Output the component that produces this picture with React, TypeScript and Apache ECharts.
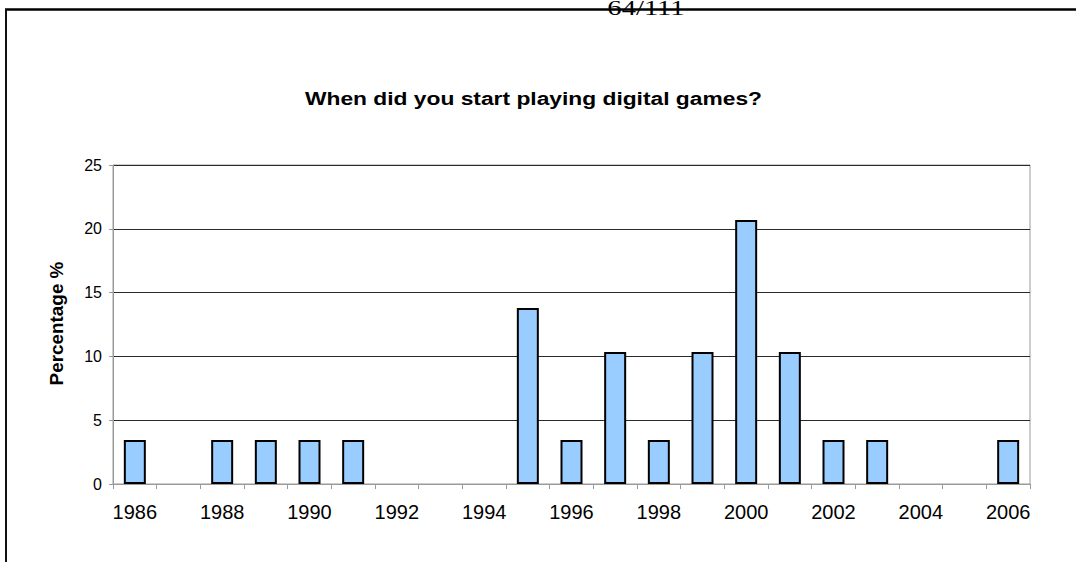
import React, { useEffect, useRef } from "react";
import * as echarts from "echarts";

const years = [
  "1986", "1987", "1988", "1989", "1990", "1991", "1992", "1993", "1994", "1995",
  "1996", "1997", "1998", "1999", "2000", "2001", "2002", "2003", "2004", "2005", "2006",
];
const percentages = [
  3.45, 0, 3.45, 3.45, 3.45, 3.45, 0, 0, 0, 13.79,
  3.45, 10.34, 3.45, 10.34, 20.69, 10.34, 3.45, 3.45, 0, 0, 3.45,
];
const chartTitle = "When did you start playing digital games?";
const yAxisName = "Percentage %";
const pageNumber = "64/111";

export default function App() {
  const ref = useRef<HTMLDivElement>(null);
  useEffect(() => {
    if (!ref.current) return;
    const chart = echarts.init(ref.current, null, { renderer: "svg" });
    chart.setOption({
      animation: false,
      backgroundColor: "#ffffff",
      grid: {
        left: 113,
        right: 46,
        top: 165,
        bottom: 78,
        show: true,
        borderColor: "#9a9a9a",
        borderWidth: 1,
        backgroundColor: "transparent",
      },
      xAxis: {
        type: "category",
        data: years,
        boundaryGap: true,
        axisLine: { show: true, lineStyle: { color: "#9a9a9a", width: 1 } },
        axisTick: { show: true, interval: 0, length: 5, lineStyle: { color: "#9a9a9a" } },
        axisLabel: {
          interval: 1,
          margin: 18,
          fontSize: 20,
          fontFamily: "Liberation Sans, Arial, sans-serif",
          color: "#000",
        },
      },
      yAxis: {
        type: "value",
        min: 0,
        max: 25,
        interval: 5,
        axisLine: { show: true, lineStyle: { color: "#9a9a9a", width: 1 } },
        axisTick: { show: true, length: 4, lineStyle: { color: "#9a9a9a" } },
        axisLabel: {
          margin: 11,
          fontSize: 16,
          fontFamily: "Liberation Sans, Arial, sans-serif",
          color: "#000",
        },
        splitLine: { show: true, lineStyle: { color: "#2a2a2a", width: 1 } },
      },
      graphic: [
        {
          type: "line",
          shape: { x1: 5, y1: 9.5, x2: 1076, y2: 9.5 },
          style: { stroke: "#000", lineWidth: 2.5 },
        },
        {
          type: "line",
          shape: { x1: 6, y1: 9, x2: 6, y2: 562 },
          style: { stroke: "#111", lineWidth: 2 },
        },
        {
          type: "text",
          x: 646,
          y: 19,
          scaleX: 1.3,
          style: {
            text: pageNumber,
            font: "22px 'Liberation Serif', 'Times New Roman', serif",
            fill: "#000",
            textAlign: "center",
            verticalAlign: "bottom",
          },
        },
        {
          type: "text",
          x: 533.5,
          y: 98,
          scaleX: 1.2,
          style: {
            text: chartTitle,
            font: "bold 19px 'Liberation Sans', Arial, sans-serif",
            fill: "#000",
            textAlign: "center",
            verticalAlign: "middle",
          },
        },
        {
          type: "text",
          x: 57,
          y: 323.5,
          rotation: Math.PI / 2,
          scaleX: 1.05,
          style: {
            text: yAxisName,
            font: "bold 18px 'Liberation Sans', Arial, sans-serif",
            fill: "#000",
            textAlign: "center",
            verticalAlign: "middle",
          },
        },
      ],
      series: [
        {
          type: "bar",
          data: percentages.map((v) => (v === 0 ? null : v)),
          barWidth: 22,
          itemStyle: {
            color: "#99ccff",
            borderColor: "#000",
            borderWidth: 2,
          },
        },
      ],
    });
    return () => chart.dispose();
  }, []);
  return (
    <div
      ref={ref}
      style={{ position: "absolute", left: 0, top: 0, width: 1076, height: 562, background: "#fff" }}
    />
  );
}
